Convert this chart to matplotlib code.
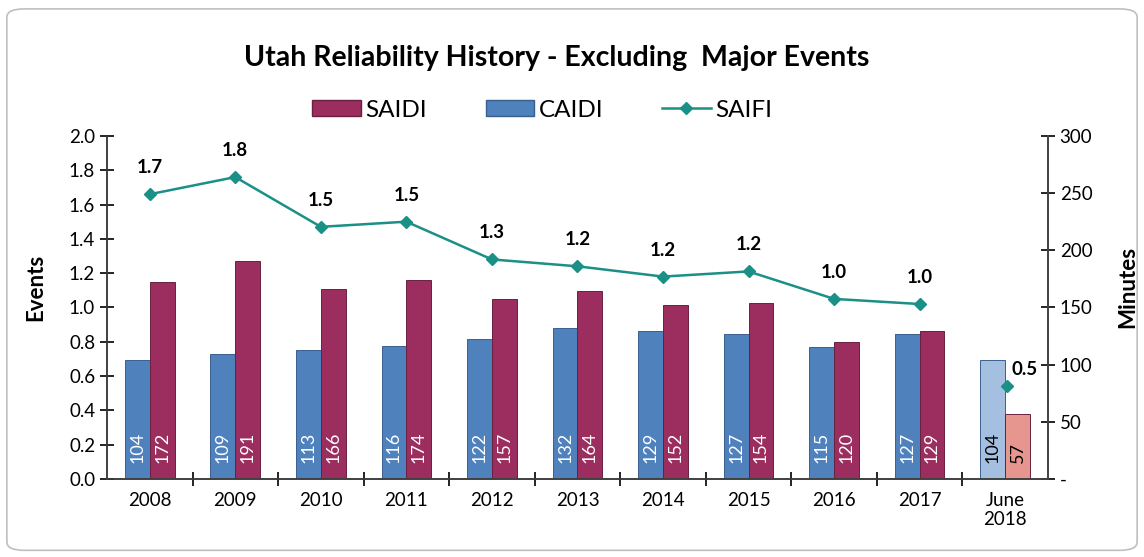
import matplotlib
matplotlib.use("Agg")
import matplotlib.pyplot as plt
import numpy as np
from matplotlib.patches import FancyBboxPatch, Patch
from matplotlib.lines import Line2D

plt.rcParams['font.family'] = ['Lato', 'DejaVu Sans']

# data
years = ["2008", "2009", "2010", "2011", "2012", "2013", "2014", "2015", "2016", "2017", "June\n2018"]
caidi = [104, 109, 113, 116, 122, 132, 129, 127, 115, 127, 104]
saidi = [172, 191, 166, 174, 157, 164, 152, 154, 120, 129, 57]
saifi = [1.66, 1.76, 1.47, 1.50, 1.28, 1.24, 1.18, 1.21, 1.05, 1.02, 0.54]
saifi_labels = ["1.7", "1.8", "1.5", "1.5", "1.3", "1.2", "1.2", "1.2", "1.0", "1.0", "0.5"]

c_saidi = "#9b2d5f"
c_caidi = "#4f81bd"
c_saidi_ytd = "#e6958f"
c_caidi_ytd = "#a4bfe0"
c_saifi = "#1a9086"

fig = plt.figure(figsize=(11.44, 5.57), dpi=100)
fig.patches.append(FancyBboxPatch((0.006, 0.012), 0.988, 0.972, boxstyle="round,pad=0,rounding_size=0.015",
                                  transform=fig.transFigure, fc="white", ec="#bfbfbf", lw=1.2, zorder=-10))

ax = fig.add_axes([0.0935, 0.140, 0.8225, 0.616])
ax2 = ax.twinx()
ax.set_zorder(ax2.get_zorder() + 1)
ax.patch.set_visible(False)
ax2.set_facecolor("#f2f2f2")

x = np.arange(len(years))
w = 0.29
n = len(years)
cols_c = [c_caidi] * (n - 1) + [c_caidi_ytd]
cols_s = [c_saidi] * (n - 1) + [c_saidi_ytd]
ax2.bar(x - w / 2, caidi, w, color=cols_c, edgecolor="#3a5f8f", lw=0.7)
ax2.bar(x + w / 2, saidi, w, color=cols_s, edgecolor="#6a2040", lw=0.7)
for i in range(n):
    tc = "white" if i < n - 1 else "black"
    ax2.text(x[i] - w / 2, 14, str(caidi[i]), rotation=90, ha="center", va="bottom",
             color=tc, fontsize=13)
    ax2.text(x[i] + w / 2, 14, str(saidi[i]), rotation=90, ha="center", va="bottom",
             color=tc, fontsize=13)

ax2.set_ylim(0, 300)
ax2.set_yticks([0, 50, 100, 150, 200, 250, 300])
ax2.set_yticklabels(["-", "50", "100", "150", "200", "250", "300"])
ax2.set_ylabel("Minutes", fontsize=16, fontweight="bold")
ax2.yaxis.set_label_coords(1.074, 0.56)

ax.plot(x[:-1], saifi[:-1], color=c_saifi, marker="D", ms=6.5, lw=1.8)
ax.plot(x[-1:] + 0.02, saifi[-1:], color=c_saifi, marker="D", ms=6.5, lw=1.8)
for i in range(n):
    if i < n - 1:
        ax.annotate(saifi_labels[i], (x[i], saifi[i]), xytext=(0, 13), textcoords="offset points",
                    ha="center", va="bottom", fontsize=13.5, fontweight="bold")
    else:
        ax.annotate(saifi_labels[i], (x[i] + 0.02, saifi[i]), xytext=(3, 6), textcoords="offset points",
                    ha="left", va="bottom", fontsize=13.5, fontweight="bold")

ax.set_ylim(0, 2.0)
ax.set_yticks(np.arange(0, 2.01, 0.2))
ax.set_yticklabels([f"{v:.1f}" for v in np.arange(0, 2.01, 0.2)])
ax.set_ylabel("Events", fontsize=16, fontweight="bold")
ax.yaxis.set_label_coords(-0.065, 0.56)
ax.set_xlim(-0.5, n - 0.5)
ax.set_xticks(x)
ax.set_xticklabels(years)
ax.set_xticks(np.arange(0.5, n - 1, 1), minor=True)
ax.tick_params(axis="x", which="major", length=0, pad=9, labelsize=13.5)
ax.tick_params(axis="x", which="minor", direction="inout", length=10, width=1.2)
ax.tick_params(axis="y", direction="inout", length=10, width=1.2, labelsize=13.5)
ax2.tick_params(axis="y", direction="inout", length=10, width=1.2, labelsize=13.5)

for a in (ax, ax2):
    a.spines["top"].set_visible(False)
    for s in ("left", "right", "bottom"):
        a.spines[s].set_color("#404040")
        a.spines[s].set_linewidth(1.2)

fig.text(0.487, 0.896, "Utah Reliability History - Excluding  Major Events", ha="center", va="center",
         fontsize=20.5, fontweight="bold")

handles = [Patch(fc=c_saidi, ec="#6a2040", label="SAIDI"),
           Patch(fc=c_caidi, ec="#3a5f8f", label="CAIDI"),
           Line2D([], [], color=c_saifi, marker="D", ms=6.5, lw=1.8, label="SAIFI")]
fig.legend(handles=handles, loc="center", bbox_to_anchor=(0.474, 0.802), ncol=3, frameon=False,
           fontsize=17.5, handlelength=2.0, handleheight=0.65, columnspacing=2.4, handletextpad=0.2)

fig.savefig("out.png", dpi=100)
